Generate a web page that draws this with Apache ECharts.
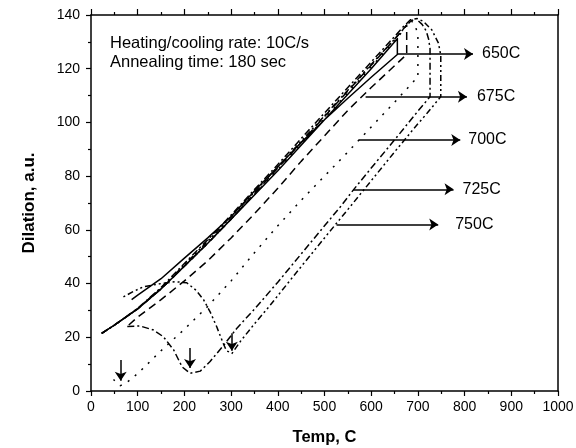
<!DOCTYPE html>
<html><head><meta charset="utf-8">
<script src="https://cdn.jsdelivr.net/npm/echarts@6/dist/echarts.min.js"></script>
<style>html,body{margin:0;padding:0;background:#fff}#c{width:576px;height:448px}</style>
</head><body><div id="c"></div>
<script>
// Dilation curves (temperature C, dilation a.u.): heating -> isothermal hold -> cooling
const curve650 = [[23,21.5],[50,24.5],[100,30.6],[150,38],[200,46.5],[250,55],[300,64],[350,73],[400,82],[450,91.5],[500,101],[550,110.5],[600,120],[656,131.2],
  [656,125.3],
  [600,116.8],[550,109],[500,101],[450,92.5],[400,83.5],[350,74.5],[300,65],[250,57],[200,49.5],[150,41.8],[100,35.7],[87,34]];
const curve675 = [[23,21.5],[50,24.5],[100,30.6],[150,38],[200,46.5],[250,55],[300,64],[350,73.5],[400,83],[450,92.5],[500,102.2],[550,111.7],[600,121.3],[650,131],[676,136.3],
  [676,125.3],
  [650,121.1],[600,113],[550,104.5],[500,95],[450,85.5],[400,75.5],[350,66],[300,57],[250,48.5],[200,41],[150,34],[100,27.5],[77,24]];
const curve700 = [[23,21.5],[50,24.5],[100,30.6],[150,38],[200,46.5],[250,55],[300,64],[350,73.2],[400,82.5],[450,92],[500,101.5],[550,111],[600,120.7],[650,130.3],[665,133.5],[677,136.5],[686,137.8],[694,136.3],[700,132.5],
  [700,117],
  [650,107.5],[600,98.3],[550,89],[500,80],[450,71],[400,61.5],[350,51.5],[300,41],[250,31.5],[200,23],[150,15],[112,8.5],[90,5],[75,3],[63,2],[55,3.5],[48,4.2]];
const curve725 = [[23,21.5],[50,24.5],[100,30.8],[150,38.5],[200,47.5],[250,56.3],[300,65.5],[350,75],[400,84.3],[450,94],[500,103.5],[550,113],[600,122.5],[650,132],[668,135.5],[684,138.2],[696,138.6],[709,136.5],[718,134],[723,131],[726,127.5],
  [726,109.6],
  [700,104.2],[650,93.5],[600,83],[561.5,74.8],[534,68.6],[500,61.5],[450,51],[400,40.5],[350,30.5],[313,23.5],[284,17],[255,11],[234,7.4],[212,6.6],[195,9],[177,15.3],[155,20.2],[134,22.7],[105,24.2],[77,24]];
const curve750 = [[23,21.5],[50,24.5],[100,30.7],[150,38.3],[200,47],[250,55.8],[300,64.8],[350,74],[400,83.5],[450,93],[500,102.5],[550,112],[600,121.6],[650,131],[670,135],[685,137.8],[698,138.7],[712,137.6],[730,134.4],[744,129.5],[749,125],
  [749,109.6],
  [720,103.5],[700,99.5],[650,89],[600,78.3],[552,68],[500,57],[450,46.3],[400,35.5],[384,32],[350,25],[320,18.5],[302,14],[290,15],[283,17.8],[269,24],[255,29.5],[241,34],[225,37.5],[205,40.3],[180,40.7],[150,40],[112,38.8],[90,37],[69,35]];

// Annotation arrows
const arrowLabels = ['650C','675C','700C','725C','750C'];
const arrowY = [125.5, 109.6, 93.5, 75.1, 62];
const arrowStartX = [656, 588, 573.6, 561.5, 525.8];
const arrowEndX = [818, 805, 790.7, 776.3, 743.5];
// Down arrows marking the minima (Ms)
const minArrowX = [63.6, 212, 301.5];
const minArrowTop = [11.5, 16, 21.5];
const minArrowTip = [3.8, 8.6, 15];

const labelGap = [9, 10, 8, 9, 17];
const FONT = 'Liberation Sans';

function curve(name, data, type) {
  return {name, type:'line', data, showSymbol:false, symbol:'none', animation:false, z:3,
    lineStyle:{color:'#000', width:1.5, type, cap:'butt', join:'round'}};
}

const arrowData = arrowLabels.map((t,i)=>[
  {coord:[arrowStartX[i], arrowY[i]], label:{show:true, formatter:t, distance:labelGap[i]}},
  {coord:[arrowEndX[i], arrowY[i]]}
]);
const minData = minArrowX.map((x,i)=>[
  {coord:[x, minArrowTop[i]], label:{show:false}},
  {coord:[x, minArrowTip[i]]}
]);

const chart = echarts.init(document.getElementById('c'), null, {renderer:'canvas'});
chart.setOption({
  backgroundColor:'#fff',
  animation:false,
  grid:{left:91, right:18, top:15, bottom:57, containLabel:false, outerBoundsMode:'none'},
  xAxis:[{
    type:'value', min:0, max:1000, interval:100, position:'bottom',
    name:'Temp, C', nameLocation:'middle', nameGap:38,
    nameTextStyle:{fontFamily:FONT, fontSize:16.5, fontWeight:'bold', color:'#000'},
    axisLine:{show:true, onZero:false, lineStyle:{color:'#000', width:1.5}},
    axisTick:{show:true, inside:false, length:5, lineStyle:{color:'#000', width:1.2}},
    minorTick:{show:true, splitNumber:2, length:3, lineStyle:{color:'#000', width:1.2}},
    axisLabel:{fontFamily:FONT, fontSize:14, color:'#000', margin:9, formatter:(v)=>String(v)},
    splitLine:{show:false}
  },{
    type:'value', min:0, max:1000, interval:100, position:'top',
    axisLine:{show:true, onZero:false, lineStyle:{color:'#000', width:1.5}},
    axisTick:{show:true, inside:false, length:6, lineStyle:{color:'#000', width:1.2}},
    minorTick:{show:true, splitNumber:2, length:3, lineStyle:{color:'#000', width:1.2}},
    axisLabel:{show:false}, splitLine:{show:false}
  }],
  yAxis:[{
    type:'value', min:0, max:140, interval:20, position:'left',
    name:'Dilation, a.u.', nameLocation:'middle', nameGap:53, nameRotate:90,
    nameTextStyle:{fontFamily:FONT, fontSize:17, fontWeight:'bold', color:'#000'},
    axisLine:{show:true, onZero:false, lineStyle:{color:'#000', width:1.5}},
    axisTick:{show:true, inside:false, length:5, lineStyle:{color:'#000', width:1.2}},
    minorTick:{show:true, splitNumber:2, length:3, lineStyle:{color:'#000', width:1.2}},
    axisLabel:{fontFamily:FONT, fontSize:14, color:'#000', margin:11, formatter:(v)=>String(v)},
    splitLine:{show:false}
  },{
    type:'value', min:0, max:140, interval:20, position:'right',
    axisLine:{show:true, onZero:false, lineStyle:{color:'#000', width:1.5}},
    axisTick:{show:false}, axisLabel:{show:false}, splitLine:{show:false}
  }],
  graphic:[
    {type:'text', left:110, top:35, style:{text:'Heating/cooling rate: 10C/s', font:'16.5px "Liberation Sans"', fill:'#000'}},
    {type:'text', left:110, top:53.5, style:{text:'Annealing time: 180 sec', font:'16.5px "Liberation Sans"', fill:'#000'}}
  ],
  series:[
    curve('650C', curve650, 'solid'),
    curve('675C', curve675, [8,5]),
    curve('700C', curve700, [2,7]),
    curve('725C', curve725, [7,3,2,3]),
    curve('750C', curve750, [6,3,2,3,2,3]),
    {type:'line', data:[], animation:false, z:4,
      markLine:{silent:true, animation:false, symbol:['none','arrow'], symbolSize:9, precision:1,
        lineStyle:{color:'#000', width:1.5, type:'solid'},
        label:{position:'end', color:'#000', fontSize:16, fontFamily:FONT},
        data:[...arrowData, ...minData]}}
  ]
});
</script></body></html>
